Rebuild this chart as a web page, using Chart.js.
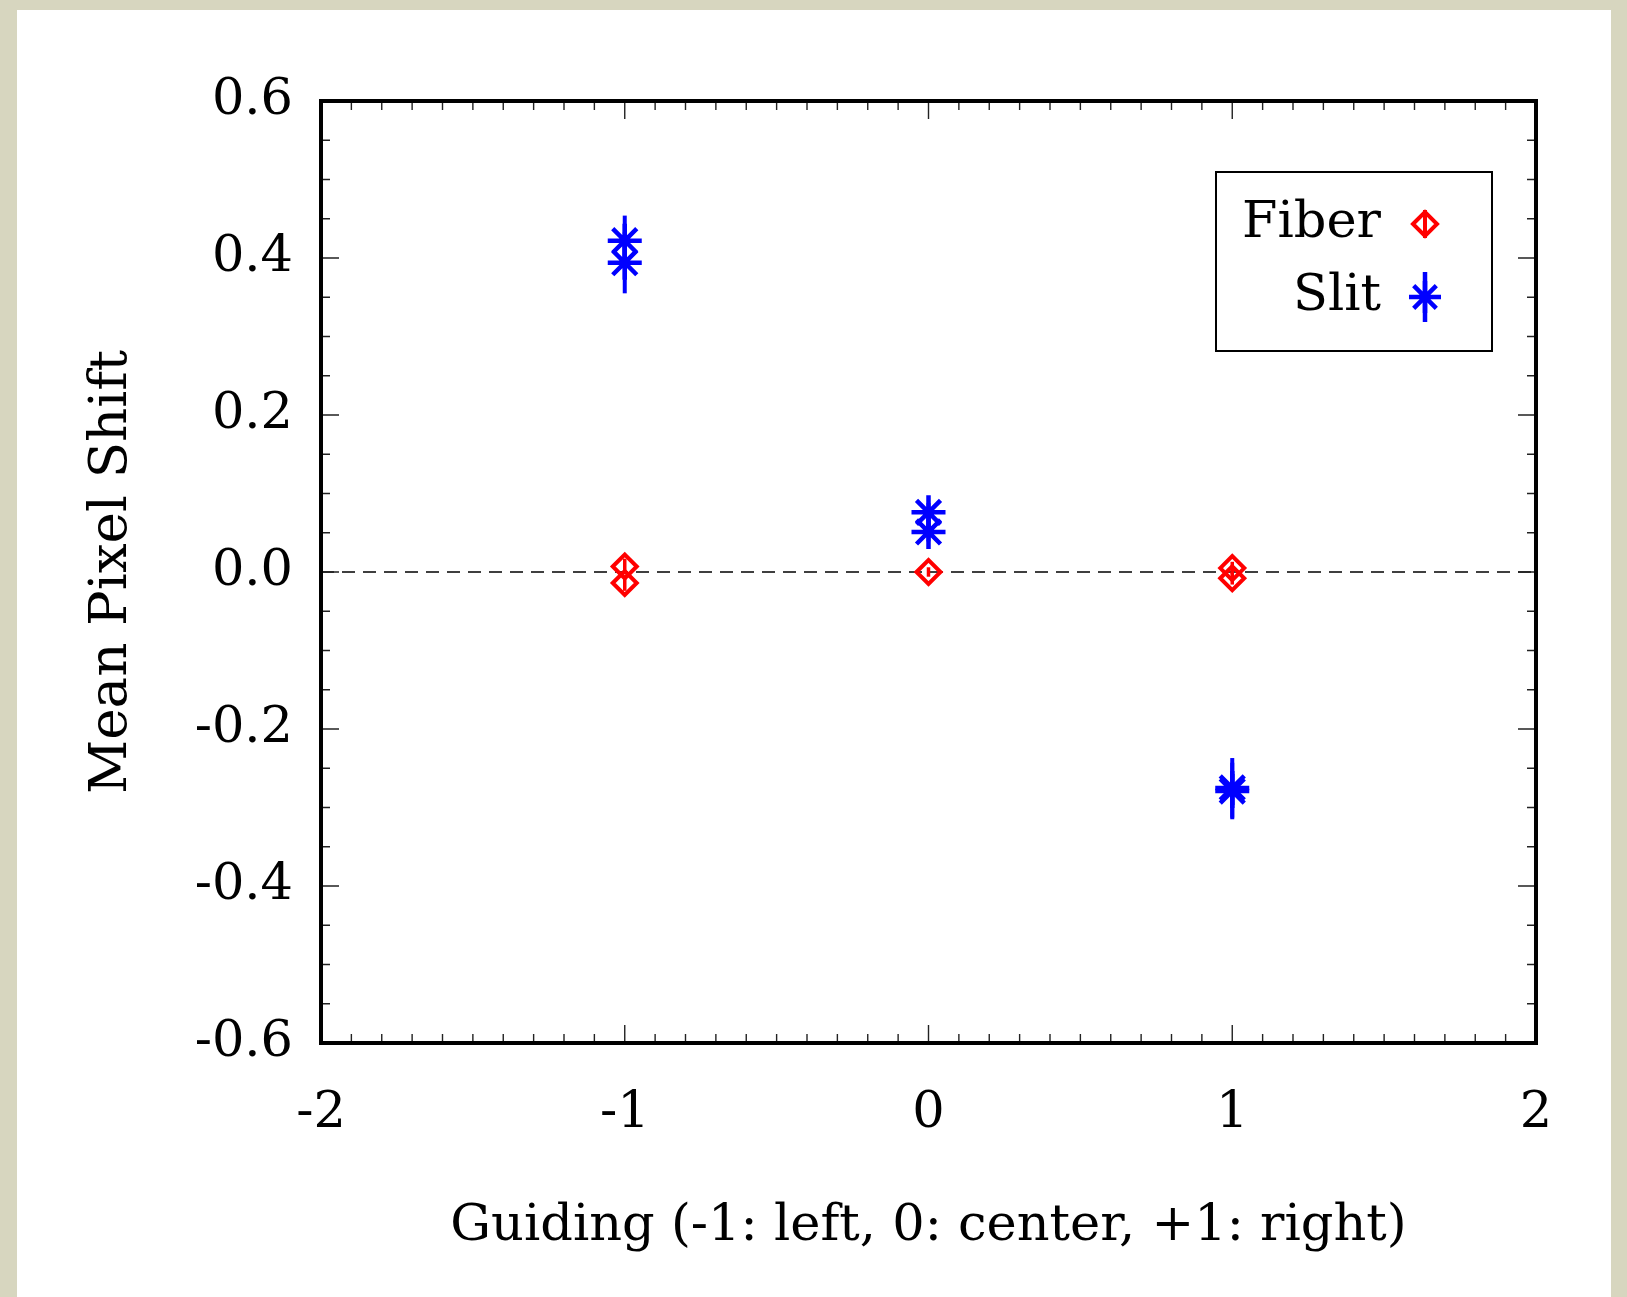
<!DOCTYPE html>
<html>
<head>
<meta charset="utf-8">
<script src="https://cdn.jsdelivr.net/npm/chart.js@4.4.1/dist/chart.umd.min.js"></script>
<style>
html, body { margin: 0; padding: 0; background: #d7d6bf; }
#wrap { width: 1627px; height: 1297px; }
</style>
</head>
<body>
<div id="wrap"><canvas id="chart" width="1627" height="1297"></canvas></div>
<script>
// --- data ---
const xTicks = [-2, -1, 0, 1, 2];
const yTicks = [-0.6, -0.4, -0.2, 0.0, 0.2, 0.4, 0.6];

const fiberX = [-1, -1, 0, 1, 1];
const fiberY = [0.007, -0.014, 0.0, 0.005, -0.008];
const fiberErr = [0.010, 0.010, 0.006, 0.008, 0.008];

const slitX = [-1, -1, 0, 0, 1, 1];
const slitY = [0.422, 0.394, 0.076, 0.051, -0.275, -0.279];
const slitErr = [0.032, 0.039, 0.012, 0.012, 0.038, 0.036];

const zeroLine = 0;
const legendNames = ['Fiber', 'Slit'];

const FONT = '"DejaVu Serif", "Liberation Serif", serif';
const RED = '#ff0000';
const BLUE = '#0000ff';

const toPoints = (xs, ys) => xs.map((x, i) => ({ x: x, y: ys[i] }));

// beige paper with the white sheet on it
const paperPlugin = {
    id: 'paper',
    beforeDraw(chart) {
        const ctx = chart.ctx;
        ctx.save();
        ctx.fillStyle = '#d7d6bf';
        ctx.fillRect(0, 0, chart.width, chart.height);
        ctx.fillStyle = '#ffffff';
        ctx.fillRect(17, 10, 1594, 1287);
        ctx.restore();
    }
};

// dashed zero line, under the markers
const zeroPlugin = {
    id: 'zeroLine',
    beforeDatasetsDraw(chart) {
        const { ctx, chartArea, scales } = chart;
        const y = scales.y.getPixelForValue(zeroLine);
        ctx.save();
        ctx.strokeStyle = '#000';
        ctx.lineWidth = 1.3;
        ctx.setLineDash([13, 8]);
        ctx.beginPath();
        ctx.moveTo(chartArea.left, y);
        ctx.lineTo(chartArea.right, y);
        ctx.stroke();
        ctx.restore();
    }
};

// vertical error bars without caps
const errorBarPlugin = {
    id: 'errorBars',
    afterDatasetsDraw(chart) {
        const ctx = chart.ctx;
        const yScale = chart.scales.y;
        chart.data.datasets.forEach((ds, di) => {
            const meta = chart.getDatasetMeta(di);
            ctx.save();
            ctx.strokeStyle = ds.borderColor;
            ctx.lineWidth = ds.errWidth;
            meta.data.forEach((pt, i) => {
                const v = ds.data[i].y;
                const e = ds.errors[i];
                ctx.beginPath();
                ctx.moveTo(pt.x, yScale.getPixelForValue(v + e));
                ctx.lineTo(pt.x, yScale.getPixelForValue(v - e));
                ctx.stroke();
            });
            ctx.restore();
        });
    }
};

// frame with inward ticks on all four sides
const framePlugin = {
    id: 'frame',
    afterDatasetsDraw(chart) {
        const { ctx, chartArea: a, scales } = chart;
        ctx.save();
        ctx.strokeStyle = '#222';
        ctx.lineWidth = 1.4;
        ctx.beginPath();
        for (let i = -20; i <= 20; i++) {
            const x = scales.x.getPixelForValue(i / 10);
            const len = i % 10 === 0 ? 18 : 9;
            ctx.moveTo(x, a.bottom); ctx.lineTo(x, a.bottom - len);
            ctx.moveTo(x, a.top); ctx.lineTo(x, a.top + len);
        }
        for (let i = -12; i <= 12; i++) {
            const y = scales.y.getPixelForValue(i * 0.05);
            const len = i % 4 === 0 ? 18 : 9;
            ctx.moveTo(a.left, y); ctx.lineTo(a.left + len, y);
            ctx.moveTo(a.right, y); ctx.lineTo(a.right - len, y);
        }
        ctx.stroke();
        ctx.strokeStyle = '#000';
        ctx.lineWidth = 4;
        ctx.strokeRect(a.left, a.top, a.right - a.left, a.bottom - a.top);
        ctx.restore();
    }
};

function drawDiamond(ctx, x, y, r) {
    ctx.beginPath();
    ctx.moveTo(x - r, y); ctx.lineTo(x, y - r); ctx.lineTo(x + r, y); ctx.lineTo(x, y + r);
    ctx.closePath();
    ctx.stroke();
}

function drawStar(ctx, x, y, r) {
    const d = r * Math.SQRT1_2;
    ctx.beginPath();
    ctx.moveTo(x - r, y); ctx.lineTo(x + r, y);
    ctx.moveTo(x, y - r); ctx.lineTo(x, y + r);
    ctx.moveTo(x - d, y - d); ctx.lineTo(x + d, y + d);
    ctx.moveTo(x + d, y - d); ctx.lineTo(x - d, y + d);
    ctx.stroke();
}

// legend in the top right: name, then marker
const legendPlugin = {
    id: 'sideLegend',
    afterDraw(chart) {
        const ctx = chart.ctx;
        const box = { x: 1216, y: 172, w: 276, h: 179 };
        ctx.save();
        ctx.fillStyle = '#fff';
        ctx.fillRect(box.x, box.y, box.w, box.h);
        ctx.strokeStyle = '#000';
        ctx.lineWidth = 2;
        ctx.strokeRect(box.x, box.y, box.w, box.h);

        ctx.font = '51px ' + FONT;
        ctx.fillStyle = '#000';
        ctx.textAlign = 'right';
        ctx.textBaseline = 'middle';
        const rows = [224, 297];
        const mx = 1425;
        legendNames.forEach((name, i) => {
            ctx.fillText(name, 1381, rows[i]);
        });

        ctx.strokeStyle = RED;
        ctx.lineWidth = 4;
        drawDiamond(ctx, mx, rows[0], 12);
        ctx.beginPath();
        ctx.moveTo(mx, rows[0] - 14); ctx.lineTo(mx, rows[0] + 14);
        ctx.stroke();

        ctx.strokeStyle = BLUE;
        ctx.lineWidth = 4.5;
        drawStar(ctx, mx, rows[1], 16);
        ctx.beginPath();
        ctx.moveTo(mx, rows[1] - 25); ctx.lineTo(mx, rows[1] + 25);
        ctx.stroke();
        ctx.restore();
    }
};

const ctx = document.getElementById('chart').getContext('2d');
new Chart(ctx, {
    type: 'scatter',
    data: {
        datasets: [
            {
                label: legendNames[0],
                data: toPoints(fiberX, fiberY),
                errors: fiberErr,
                errWidth: 3.5,
                pointStyle: 'rectRot',
                pointRadius: 12,
                pointHoverRadius: 12,
                borderWidth: 4,
                borderColor: RED,
                backgroundColor: 'rgba(0,0,0,0)'
            },
            {
                label: legendNames[1],
                data: toPoints(slitX, slitY),
                errors: slitErr,
                errWidth: 4,
                pointStyle: 'star',
                pointRadius: 17,
                pointHoverRadius: 17,
                borderWidth: 4.5,
                borderColor: BLUE,
                backgroundColor: BLUE
            }
        ]
    },
    options: {
        responsive: false,
        animation: false,
        events: [],
        layout: { padding: { top: 101, right: 91, left: 0, bottom: 0 } },
        plugins: {
            legend: { display: false },
            tooltip: { enabled: false }
        },
        scales: {
            x: {
                type: 'linear',
                min: -2,
                max: 2,
                afterFit: (scale) => { scale.height = 254; },
                afterBuildTicks: (scale) => { scale.ticks = xTicks.map(v => ({ value: v })); },
                grid: { display: false, drawTicks: false },
                border: { display: false },
                ticks: {
                    color: '#000',
                    padding: 40,
                    font: { family: FONT, size: 51 },
                    callback: (v) => String(v)
                },
                title: {
                    display: true,
                    text: 'Guiding (-1: left, 0: center, +1: right)',
                    color: '#000',
                    font: { family: FONT, size: 51 },
                    padding: { top: 0, bottom: 40 }
                }
            },
            y: {
                type: 'linear',
                min: -0.6,
                max: 0.6,
                afterFit: (scale) => { scale.width = 321; },
                afterBuildTicks: (scale) => { scale.ticks = yTicks.map(v => ({ value: v })); },
                grid: { display: false, drawTicks: false },
                border: { display: false },
                ticks: {
                    color: '#000',
                    padding: 28,
                    font: { family: FONT, size: 51 },
                    callback: (v) => Number(v).toFixed(1)
                },
                title: {
                    display: true,
                    text: 'Mean Pixel Shift',
                    color: '#000',
                    font: { family: FONT, size: 53 },
                    padding: { top: 80, bottom: 0 }
                }
            }
        }
    },
    plugins: [paperPlugin, zeroPlugin, errorBarPlugin, framePlugin, legendPlugin]
});
</script>
</body>
</html>
